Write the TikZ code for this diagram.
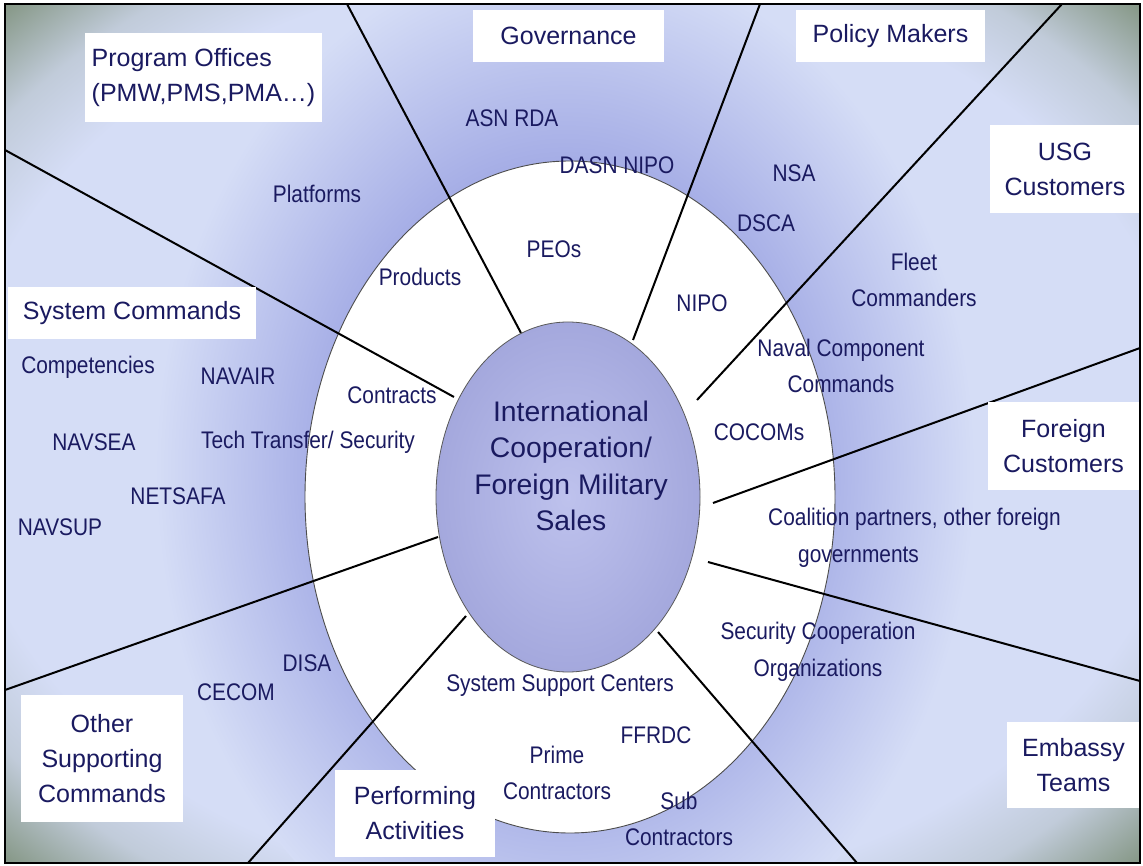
\documentclass[tikz,border=0pt]{standalone}
\usepackage{fontspec}
\setmainfont{Liberation Sans}
\newfontfamily\slimfont[FakeStretch=0.87]{Liberation Sans}
\usetikzlibrary{shapes.geometric}

\definecolor{paleblue}{RGB}{213,221,246}
\definecolor{glowblue}{RGB}{166,174,230}
\definecolor{cornergrey}{RGB}{132,150,132}
\definecolor{corefill}{RGB}{164,168,221}
\definecolor{corelight}{RGB}{190,194,237}
\definecolor{inkblue}{RGB}{26,26,96}

% glow round the ring and the grey-green fade in the corners
\pgfdeclareradialshading{ringglow}{\pgfpoint{0bp}{0bp}}{%
	color(0bp)=(glowblue); color(15bp)=(glowblue); color(25bp)=(paleblue); color(50bp)=(paleblue)}
\pgfdeclareradialshading{edgefade}{\pgfpoint{0bp}{0bp}}{%
	color(0bp)=(paleblue); color(27bp)=(paleblue); color(31bp)=(paleblue!75!cornergrey); color(35.4bp)=(cornergrey); color(50bp)=(cornergrey)}

\tikzset{
	unitbox/.style={fill=white, text=inkblue, font=\fontsize{25}{35}\selectfont, align=center, inner sep=0pt},
	unitname/.style={text=inkblue, font=\slimfont\fontsize{24}{36.5}\selectfont, align=center, inner sep=0pt},
	spoke/.style={line width=2pt, black}
}

\begin{document}
\begin{tikzpicture}[x=1pt, y=-1pt]
	\useasboundingbox (0,0) rectangle (1143,866);
	\fill[white] (0,0) rectangle (1143,866);
	\begin{scope}
		\clip (5,4) rectangle (1140,863);
		\shade[shading=edgefade] (5,4) rectangle (1140,863);
		\shade[shading=ringglow] (565,470) ellipse (410 and 520);
		% white ring
		\draw[draw=black!70, fill=white, line width=0.9pt] (570,497) ellipse (265 and 336);
		% spokes, inner end s, outer end e
		\coordinate (s1) at (521,333);	\coordinate (e1) at (347,4);
		\coordinate (s2) at (633,340);	\coordinate (e2) at (760,4);
		\coordinate (s3) at (697,400);	\coordinate (e3) at (1062,4);
		\coordinate (s4) at (713,503);	\coordinate (e4) at (1140,348);
		\coordinate (s5) at (708,562);	\coordinate (e5) at (1140,681);
		\coordinate (s6) at (658,632);	\coordinate (e6) at (857,863);
		\coordinate (s7) at (466,616);	\coordinate (e7) at (248,863);
		\coordinate (s8) at (438,537);	\coordinate (e8) at (5,690);
		\coordinate (s9) at (454,397);	\coordinate (e9) at (5,150);
		\foreach \i in {1,...,9}
			\draw[spoke] (s\i) -- (e\i);
	\end{scope}
	% core
	\node[ellipse, draw=black!65, line width=0.8pt, minimum width=264, minimum height=350, inner sep=0pt, inner color=corelight, outer color=corefill] (core) at (568,497) {};
	\node[text=inkblue, font=\fontsize{28.3}{36.5}\selectfont, align=center] (corelabel) at (571,466) {International\\Cooperation/\\Foreign Military\\Sales};
	% boxed groups
	\node[unitbox, align=left, minimum width=237, minimum height=89] (progoff) at (203.5,77.5) {Program Offices\\(PMW,PMS,PMA…)};
	\node[unitbox, minimum width=191, minimum height=52] (govern) at (568.5,36) {Governance};
	\node[unitbox, minimum width=189, minimum height=52] (policy) at (890.5,36) {Policy Makers};
	\node[unitbox, minimum width=150, minimum height=88] (usg) at (1065,169) {USG\\Customers};
	\node[unitbox, minimum width=248, minimum height=52] (syscmd) at (132,313) {System Commands};
	\node[unitbox, minimum width=151, minimum height=88] (foreign) at (1063.5,446) {Foreign\\Customers};
	\node[unitbox, minimum width=162, minimum height=127] (othersup) at (102,758.5) {Other\\Supporting\\Commands};
	\node[unitbox, minimum width=160, minimum height=87] (perform) at (415,813.5) {Performing\\Activities};
	\node[unitbox, minimum width=133, minimum height=86] (embassy) at (1073.5,765) {Embassy\\Teams};
	% members
	\node[unitname] (platforms) at (317,194) {Platforms};
	\node[unitname] (asnrda) at (512,118) {ASN RDA};
	\node[unitname] (dasn) at (617,165) {DASN NIPO};
	\node[unitname] (nsa) at (794,173) {NSA};
	\node[unitname] (dsca) at (766,223) {DSCA};
	\node[unitname] (peos) at (554,249) {PEOs};
	\node[unitname] (products) at (420,277) {Products};
	\node[unitname] (nipo) at (702,303) {NIPO};
	\node[unitname] (fleet) at (914,280) {Fleet\\Commanders};
	\node[unitname] (naval) at (841,366) {Naval Component\\Commands};
	\node[unitname] (cocoms) at (759,432) {COCOMs};
	\node[unitname, align=left, anchor=west] (coalition) at (768,538) {Coalition partners, other foreign\\\hspace*{30pt}governments};
	\node[unitname] (secco) at (818,652) {Security Cooperation\\Organizations};
	\node[unitname] (ssc) at (560,686) {System Support Centers};
	\node[unitname] (ffrdc) at (656,735) {FFRDC};
	\node[unitname] (prime) at (557,773) {Prime\\Contractors};
	\node[unitname] (sub) at (679,819) {Sub\\Contractors};
	\node[unitname] (disa) at (307,663) {DISA};
	\node[unitname] (cecom) at (236,692) {CECOM};
	\node[unitname] (compet) at (88,367) {Competencies};
	\node[unitname] (navair) at (238,376) {NAVAIR};
	\node[unitname] (navsea) at (94,442) {NAVSEA};
	\node[unitname] (techtr) at (308,442) {Tech Transfer/ Security};
	\node[unitname] (netsafa) at (178,496) {NETSAFA};
	\node[unitname] (navsup) at (60,527) {NAVSUP};
	\node[unitname] (contracts) at (392,395) {Contracts};
	% frame
	\draw[line width=2.5pt] (5,4) rectangle (1140,863);
\end{tikzpicture}
\end{document}
